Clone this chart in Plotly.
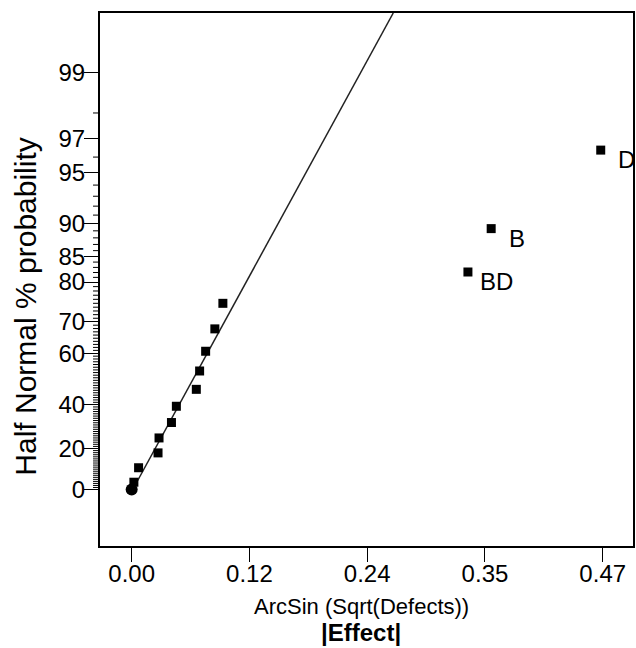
from statistics import NormalDist
import plotly.graph_objects as go

# |Effect| values (ArcSin(Sqrt(Defects))) and half-normal % probability
effect_x = [0.0022, 0.0069, 0.0263, 0.0273, 0.0397, 0.0446, 0.0645, 0.0678,
            0.0738, 0.0830, 0.0910]
effect_p = [3.6, 10.7, 17.9, 25.0, 32.1, 39.3, 46.4, 53.6, 60.7, 67.9, 75.0]

labeled_names = ["BD", "B", "D"]
labeled_x = [0.3355, 0.3587, 0.4680]
labeled_p = [82.1, 89.3, 96.4]

error_x = [0.0]
error_p = [0.0]

line_x = [0.0011, 0.2610]
line_p = [0.0, 99.676]

ytick_p = [0, 20, 40, 60, 70, 80, 85, 90, 95, 97, 99]
ytick_text = [str(v) for v in ytick_p]
yminor_p = [v for v in range(1, 99) if v not in ytick_p]

xtick_vals = [0.0, 0.1175, 0.235, 0.3525, 0.47]
xtick_text = ["0.00", "0.12", "0.24", "0.35", "0.47"]

nd = NormalDist()


def hn(p):
    return nd.inv_cdf(0.5 + p / 200.0)


FONT = "Liberation Sans, Arial, sans-serif"
YRANGE = [-0.349, 2.944]
PLOT_W = 535.0
MINOR_LEN = 7.0

fig = go.Figure()
fig.add_trace(go.Scatter(x=line_x, y=[hn(p) for p in line_p], mode="lines",
                         line=dict(color="#222222", width=1.5),
                         hoverinfo="skip", showlegend=False, cliponaxis=True))
fig.add_trace(go.Scatter(x=effect_x, y=[hn(p) for p in effect_p], mode="markers",
                         marker=dict(symbol="square", size=9, color="black",
                                     line=dict(width=0)),
                         showlegend=False))
fig.add_trace(go.Scatter(x=labeled_x, y=[hn(p) for p in labeled_p], mode="markers",
                         marker=dict(symbol="square", size=9, color="black",
                                     line=dict(width=0)),
                         showlegend=False))
fig.add_trace(go.Scatter(x=error_x, y=[hn(p) for p in error_p], mode="markers",
                         marker=dict(symbol="circle", size=12, color="black",
                                     line=dict(width=0)),
                         showlegend=False))

# minor ticks of the half-normal probability axis
for p in yminor_p:
    yv = hn(p)
    fig.add_shape(type="line", xref="paper", yref="y",
                  x0=-MINOR_LEN / PLOT_W, x1=0, y0=yv, y1=yv,
                  line=dict(color="black", width=1))

shifts = {"BD": (10, -9), "B": (16, -10), "D": (15, -9.5)}
for name, xv, pv in zip(labeled_names, labeled_x, labeled_p):
    dx, dy = shifts[name]
    fig.add_annotation(x=xv, y=hn(pv), text=name, showarrow=False,
                       xanchor="left", yanchor="middle", xshift=dx, yshift=dy,
                       font=dict(family=FONT, size=24, color="black"))

fig.add_annotation(xref="paper", yref="paper", x=0.4897, y=0, yshift=-60.5,
                   text="ArcSin (Sqrt(Defects))", showarrow=False,
                   xanchor="center", yanchor="middle",
                   font=dict(family=FONT, size=22, color="black"))
fig.add_annotation(xref="paper", yref="paper", x=0.4897, y=0, yshift=-86.5,
                   text="<b>|Effect|</b>", showarrow=False,
                   xanchor="center", yanchor="middle",
                   font=dict(family=FONT, size=24, color="black"))
fig.add_annotation(xref="paper", yref="paper", x=0, xshift=-74, y=0.449,
                   text="Half Normal % probability", showarrow=False,
                   textangle=-90, xanchor="center", yanchor="middle",
                   font=dict(family=FONT, size=30, color="black"))

fig.update_layout(
    width=636, height=648,
    margin=dict(l=100, r=1, t=13, b=101.5),
    paper_bgcolor="white", plot_bgcolor="white",
    font=dict(family=FONT, color="black"),
    xaxis=dict(range=[-0.0316, 0.5002], tickmode="array", tickvals=xtick_vals,
               ticktext=xtick_text, ticks="outside", ticklen=14, tickwidth=1.2,
               tickcolor="black", showline=True, linecolor="black", linewidth=2,
               mirror=True, showgrid=False, zeroline=False,
               ticklabelstandoff=-9,
               tickfont=dict(family=FONT, size=24, color="black")),
    yaxis=dict(range=YRANGE, tickmode="array",
               tickvals=[hn(p) for p in ytick_p], ticktext=ytick_text,
               ticks="outside", ticklen=14, tickwidth=1.2, tickcolor="black",
               showline=True, linecolor="black", linewidth=2, mirror=True,
               showgrid=False, zeroline=False, ticklabelstandoff=-6,
               tickfont=dict(family=FONT, size=24, color="black")),
)

fig.write_html("out.html")
